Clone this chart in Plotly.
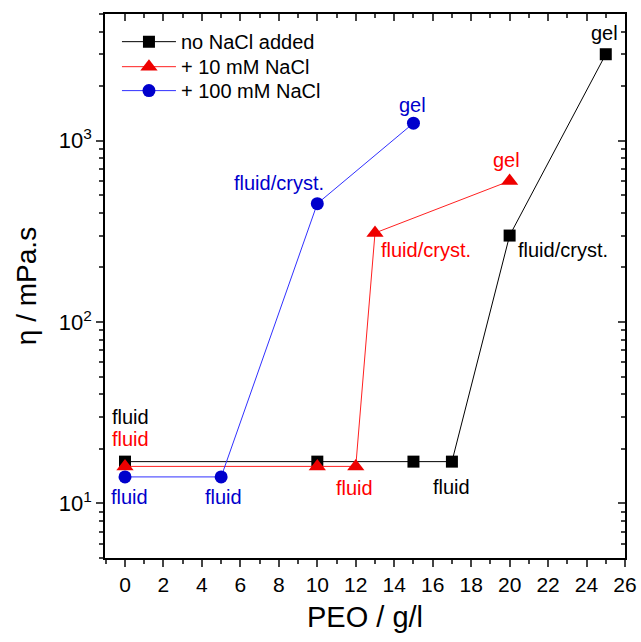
import plotly.graph_objects as go

# Data
peo_black = [0, 10, 15, 17, 20, 25]
eta_black = [17, 17, 17, 17, 300, 3000]
peo_red = [0, 10, 12, 13, 20]
eta_red = [16, 16, 16, 310, 600]
peo_blue = [0, 5, 10, 15]
eta_blue = [14, 14, 450, 1250]

names = ["no NaCl added", "+ 10 mM NaCl", "+ 100 mM NaCl"]

x_ticks = list(range(0, 27, 2))
y_ticks = [10, 100, 1000]
y_ticktext = ["10<sup>1</sup>", "10<sup>2</sup>", "10<sup>3</sup>"]
y_minor = [5, 6, 7, 8, 9, 20, 30, 40, 50, 60, 70, 80, 90,
           200, 300, 400, 500, 600, 700, 800, 900, 2000, 3000, 4000, 5000]

# annotation labels: (text, x, log10(y), color)
labels = [
    ("fluid", 0.3, 1.479, "black"),
    ("fluid", 0.3, 1.353, "#ff0000"),
    ("fluid", 0.25, 1.033, "#0000cc"),
    ("fluid", 5.1, 1.033, "#0000cc"),
    ("fluid", 11.95, 1.083, "#ff0000"),
    ("fluid", 17.0, 1.088, "black"),
    ("fluid/cryst.", 22.75, 2.40, "black"),
    ("gel", 24.94, 3.595, "black"),
    ("gel", 19.84, 2.895, "#ff0000"),
    ("fluid/cryst.", 15.66, 2.40, "#ff0000"),
    ("fluid/cryst.", 8.0, 2.769, "#0000cc"),
    ("gel", 14.96, 3.198, "#0000cc"),
]

FONT = "Liberation Sans, Arial, sans-serif"

fig = go.Figure()
fig.add_trace(go.Scatter(x=peo_black, y=eta_black, name=names[0], mode="lines+markers",
                         legend="legend",
                         line=dict(color="black", width=1),
                         marker=dict(symbol="square", size=12, color="black")))
fig.add_trace(go.Scatter(x=peo_red, y=eta_red, name=names[1], mode="lines+markers",
                         legend="legend2",
                         line=dict(color="#ff2020", width=1),
                         marker=dict(symbol="triangle-up", size=15, color="#ee0000")))
fig.add_trace(go.Scatter(x=peo_blue, y=eta_blue, name=names[2], mode="lines+markers",
                         legend="legend3",
                         line=dict(color="#3030ff", width=1),
                         marker=dict(symbol="circle", size=13, color="#0000cc")))
# dummy trace for mirrored inside-tick axes
fig.add_trace(go.Scatter(x=[None], y=[None], xaxis="x2", yaxis="y2", showlegend=False,
                         hoverinfo="skip"))

for text, x, ly, col in labels:
    fig.add_annotation(x=x, y=ly, xref="x", yref="y", text=text, showarrow=False,
                       font=dict(family=FONT, size=20, color=col))

xr = [-1.04, 26]
yr = [0.69897, 3.69897]


def leg(y):
    return dict(x=0.023, y=y, xanchor="left", yanchor="top",
                bgcolor="rgba(0,0,0,0)", font=dict(family=FONT, size=20),
                itemwidth=54)


fig.update_layout(
    width=641, height=642,
    margin=dict(l=105, r=16, t=14, b=84),
    paper_bgcolor="white", plot_bgcolor="white",
    font=dict(family=FONT, size=20, color="black"),
    showlegend=True,
    legend=leg(0.985), legend2=leg(0.939), legend3=leg(0.895),
    xaxis=dict(range=xr, tickvals=x_ticks, ticks="outside", ticklen=7, tickwidth=1.5,
               showline=True, linewidth=1.5, linecolor="black", mirror=True,
               showgrid=False, zeroline=False, automargin=False,
               tickfont=dict(family=FONT, size=21),
               minor=dict(ticks="outside", ticklen=4, tickwidth=1.5, dtick=1, tick0=-1),
               title=dict(text="PEO / g/l", font=dict(family=FONT, size=29), standoff=12)),
    yaxis=dict(type="log", range=yr, tickvals=y_ticks, ticktext=y_ticktext,
               ticks="outside", ticklen=7, tickwidth=1.5,
               showline=True, linewidth=1.5, linecolor="black", mirror=True,
               showgrid=False, zeroline=False, automargin=False,
               tickfont=dict(family=FONT, size=22),
               minor=dict(ticks="outside", ticklen=4, tickwidth=1.5, tickmode="array",
                          tickvals=y_minor),
               title=dict(text="η / mPa.s", font=dict(family=FONT, size=28), standoff=14)),
    xaxis2=dict(overlaying="x", side="top", anchor="y", range=xr, tickvals=x_ticks,
                ticks="inside", ticklen=7, tickwidth=1.5, showticklabels=False,
                showline=False, showgrid=False, zeroline=False, automargin=False,
                minor=dict(ticks="inside", ticklen=4, tickwidth=1.5, dtick=1, tick0=-1)),
    yaxis2=dict(overlaying="y", side="right", anchor="x", type="log", range=yr,
                tickvals=y_ticks, ticks="inside", ticklen=7, tickwidth=1.5,
                showticklabels=False, showline=False, showgrid=False, zeroline=False,
                automargin=False,
                minor=dict(ticks="inside", ticklen=4, tickwidth=1.5, tickmode="array",
                           tickvals=y_minor)),
)

fig.write_html("out.html", config={"displayModeBar": False},
               post_script="document.body.style.margin='0';document.body.style.padding='0';")
